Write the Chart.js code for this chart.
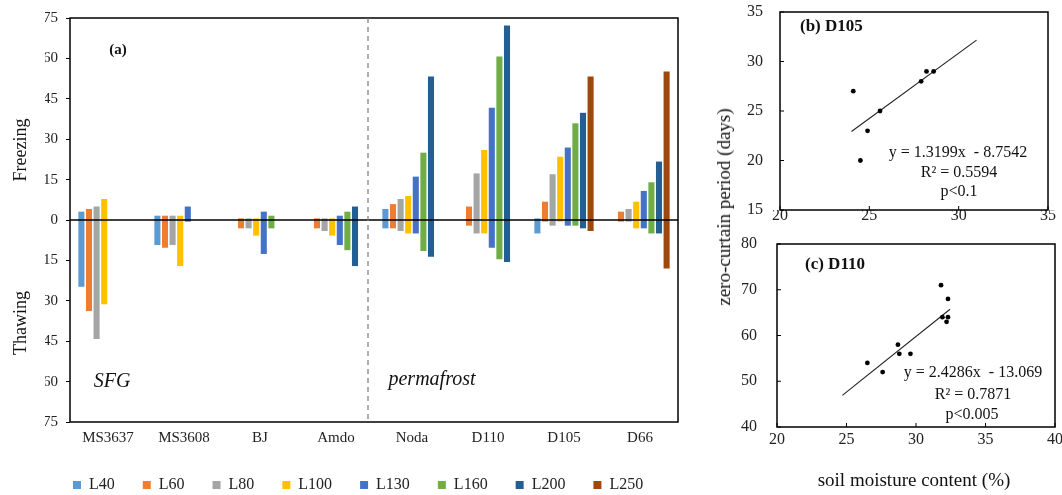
<!DOCTYPE html>
<html>
<head>
<meta charset="utf-8">
<script src="https://cdn.jsdelivr.net/npm/chart.js@4.4.1/dist/chart.umd.min.js"></script>
<style>
  html, body { margin: 0; padding: 0; background: #fff; overflow: hidden; width: 1062px; height: 495px; }
  canvas { position: absolute; }
  .axis-title { position: absolute; font-family: 'Liberation Serif', serif; font-size: 19px; color: #111; white-space: nowrap; transform: translate(-50%, -50%); }
</style>
</head>
<body>
<canvas id="barChart" width="690" height="503" style="left:0;top:0"></canvas>
<canvas id="scatterB" width="362" height="235" style="left:700px;top:0"></canvas>
<canvas id="scatterC" width="362" height="265" style="left:700px;top:230px"></canvas>
<div class="axis-title" style="left:724px;top:207px;transform:translate(-50%,-50%) rotate(-90deg)">zero-curtain period (days)</div>
<div class="axis-title" style="left:914px;top:480px">soil moisture content (%)</div>

<script>
// ---- (a) days of freezing (up) / thawing (down) per layer, null = no sensor
const sites = ["MS3637", "MS3608", "BJ", "Amdo", "Noda", "D110", "D105", "D66"];
const layers = ["L40", "L60", "L80", "L100", "L130", "L160", "L200", "L250"];
const layerColors = ["#5B9BD5", "#ED7D31", "#A5A5A5", "#FFC000", "#4472C4", "#70AD47", "#255E91", "#9E480E"];
const yTicksA = [-75, -60, -45, -30, -15, 0, 15, 30, 45, 60, 75];

const freezeL40 = [3.1, 1.6, null, null, 4.1, null, 0.6, null];
const freezeL60 = [4.1, 1.6, 0.6, 0.6, 5.9, 5.0, 6.8, 3.1];
const freezeL80 = [5.0, 1.6, 0.6, 0.6, 7.8, 17.3, 17.0, 4.1];
const freezeL100 = [7.8, 1.6, 0.6, 0.6, 8.9, 26.0, 23.5, 6.8];
const freezeL130 = [null, 5.0, 3.1, 1.6, 16.1, 41.7, 26.9, 10.8];
const freezeL160 = [null, null, 1.6, 3.1, 25.0, 60.7, 35.9, 14.0];
const freezeL200 = [null, null, null, 5.0, 53.3, 72.2, 39.8, 21.7];
const freezeL250 = [null, null, null, null, null, null, 53.3, 55.1];

const thawL40 = [24.8, 9.3, null, null, 3.1, null, 5.0, null];
const thawL60 = [33.8, 10.3, 3.1, 3.1, 3.1, 2.1, 0.6, 0.6];
const thawL80 = [44.2, 9.3, 3.1, 4.1, 4.1, 5.0, 2.1, 0.6];
const thawL100 = [31.3, 17.1, 5.8, 5.8, 5.0, 5.0, 0.6, 3.1];
const thawL130 = [null, 0.6, 12.6, 9.3, 5.0, 10.3, 2.1, 3.1];
const thawL160 = [null, null, 3.1, 11.2, 11.5, 14.6, 2.1, 5.0];
const thawL200 = [null, null, null, 17.1, 13.6, 15.6, 3.1, 5.0];
const thawL250 = [null, null, null, null, null, null, 4.1, 18.0];

// ---- (b) D105 and (c) D110: soil moisture (%) vs zero-curtain period (days)
const moistureD105 = [24.1, 24.5, 24.9, 25.6, 27.9, 28.2, 28.6];
const zeroCurtainD105 = [27, 20, 23, 25, 28, 29, 29];
const fitD105 = { slope: 1.3199, intercept: -8.7542, from: 24.0, to: 31.0 };

const moistureD110 = [26.5, 27.6, 28.7, 28.8, 29.6, 31.8, 31.9, 32.3, 32.3, 32.2];
const zeroCurtainD110 = [54, 52, 58, 56, 56, 71, 64, 68, 64, 63];
const fitD110 = { slope: 2.4286, intercept: -13.069, from: 24.7, to: 32.45 };

const SERIF = "'Liberation Serif', 'Times New Roman', serif";

const freezeAll = [freezeL40, freezeL60, freezeL80, freezeL100, freezeL130, freezeL160, freezeL200, freezeL250];
const thawAll = [thawL40, thawL60, thawL80, thawL100, thawL130, thawL160, thawL200, thawL250];

// free text drawn on the canvas (labels, panel tags, equations)
const notesPlugin = {
  id: "notes",
  afterDraw(chart, args, opts) {
    const ctx = chart.ctx;
    (opts.items || []).forEach((t) => {
      ctx.save();
      ctx.font = t.font;
      ctx.fillStyle = t.color || "#111";
      ctx.textAlign = t.align || "center";
      ctx.textBaseline = "middle";
      ctx.translate(t.x, t.y);
      if (t.rotate) ctx.rotate(t.rotate);
      ctx.fillText(t.text, 0, 0);
      ctx.restore();
    });
  },
};

// box around plot area + inward tick marks for the scatter panels
const framePlugin = {
  id: "frame",
  afterDatasetsDraw(chart, args, opts) {
    const { ctx, chartArea: a, scales } = chart;
    ctx.save();
    ctx.strokeStyle = "#000";
    ctx.lineWidth = 1.5;
    ctx.strokeRect(a.left, a.top, a.right - a.left, a.bottom - a.top);
    if (opts.innerTicks) {
      ctx.lineWidth = 1;
      ctx.beginPath();
      scales.x.ticks.forEach((tk) => {
        const px = scales.x.getPixelForValue(tk.value);
        ctx.moveTo(px, a.bottom);
        ctx.lineTo(px, a.bottom - 4);
      });
      scales.y.ticks.forEach((tk) => {
        const py = scales.y.getPixelForValue(tk.value);
        ctx.moveTo(a.left, py);
        ctx.lineTo(a.left + 4, py);
      });
      ctx.stroke();
    }
    if (opts.zeroLine) {
      const y0 = scales.y.getPixelForValue(0);
      ctx.beginPath();
      ctx.moveTo(a.left, y0);
      ctx.lineTo(a.right, y0);
      ctx.stroke();
    }
    if (opts.dividerAfter != null) {
      const i = opts.dividerAfter;
      const xd = (scales.x.getPixelForValue(i) + scales.x.getPixelForValue(i + 1)) / 2 - 6;
      ctx.strokeStyle = "#777";
      ctx.lineWidth = 1.2;
      ctx.setLineDash([5, 4]);
      ctx.beginPath();
      ctx.moveTo(xd, a.top);
      ctx.lineTo(xd, a.bottom);
      ctx.stroke();
    }
    ctx.restore();
  },
};

Chart.register(notesPlugin, framePlugin);
Chart.defaults.font.family = SERIF;
Chart.defaults.color = "#222";

// keep the plot area where layout.padding puts it (labels may hang out)
function noOverhang(s) {
  s.paddingTop = 0;
  s.paddingBottom = 0;
  s.paddingLeft = 0;
  s.paddingRight = 0;
}

// ---------- panel (a)
const barDatasets = layers.map((name, i) => ({
  label: name,
  data: sites.map((_, j) => (freezeAll[i][j] == null ? null : [-thawAll[i][j], freezeAll[i][j]])),
  backgroundColor: layerColors[i],
  borderWidth: 0,
  barPercentage: 0.8,
  categoryPercentage: 0.8,
}));

new Chart(document.getElementById("barChart"), {
  type: "bar",
  data: { labels: sites, datasets: barDatasets },
  options: {
    responsive: false,
    animation: false,
    layout: { padding: { left: 45, right: 12, top: 18, bottom: 0 } },
    scales: {
      x: {
        grid: { display: false, drawTicks: false },
        border: { display: false },
        ticks: { font: { size: 15 }, padding: 7, color: "#222" },
        afterFit: (s) => { s.height = 27; noOverhang(s); },
      },
      y: {
        min: -75,
        max: 75,
        afterBuildTicks: (s) => { s.ticks = yTicksA.map((v) => ({ value: v })); },
        ticks: { font: { size: 15 }, padding: 8, color: "#222", callback: (v) => Math.abs(v) },
        grid: { drawOnChartArea: false, drawTicks: true, tickLength: 4, tickColor: "#000" },
        border: { display: false },
        afterFit: (s) => { s.width = 25; noOverhang(s); },
      },
    },
    plugins: {
      legend: {
        position: "bottom",
        align: "start",
        labels: { font: { size: 16 }, boxWidth: 8, boxHeight: 8, padding: 28, color: "#222" },
      },
      tooltip: { enabled: false },
      frame: { zeroLine: true, dividerAfter: 3 },
      notes: {
        items: [
          { text: "(a)", x: 118, y: 50, font: `bold 15px ${SERIF}` },
          { text: "SFG", x: 112, y: 382, font: `italic 20px ${SERIF}` },
          { text: "permafrost", x: 432, y: 380, font: `italic 20px ${SERIF}` },
          { text: "Freezing", x: 21, y: 150, font: `18px ${SERIF}`, rotate: -Math.PI / 2 },
          { text: "Thawing", x: 21, y: 323, font: `18px ${SERIF}`, rotate: -Math.PI / 2 },
        ],
      },
    },
  },
});

// ---------- panels (b) and (c)
function fitLine(fit) {
  return [fit.from, fit.to].map((x) => ({ x, y: fit.slope * x + fit.intercept }));
}

function scatterPanel(id, xs, ys, fit, box, notes) {
  const points = xs.map((x, i) => ({ x, y: ys[i] }));
  return new Chart(document.getElementById(id), {
    type: "scatter",
    data: {
      datasets: [
        { data: points, pointRadius: 2.4, pointBackgroundColor: "#000", pointBorderWidth: 0 },
        { type: "line", data: fitLine(fit), showLine: true, pointRadius: 0, borderColor: "#222", borderWidth: 1.1 },
      ],
    },
    options: {
      responsive: false,
      animation: false,
      layout: { autoPadding: false, padding: { left: 0, right: box.right, top: box.top, bottom: 0 } },
      scales: {
        x: {
          min: box.xMin, max: box.xMax,
          ticks: { stepSize: 5, font: { size: 16 }, padding: box.xPad, color: "#222" },
          grid: { display: false, drawTicks: false },
          border: { display: false },
          afterFit: (s) => { s.height = box.xHeight; noOverhang(s); },
        },
        y: {
          min: box.yMin, max: box.yMax,
          ticks: { stepSize: box.yStep, font: { size: 16 }, padding: box.yPad, color: "#222" },
          grid: { display: false, drawTicks: false },
          border: { display: false },
          afterFit: (s) => { s.width = box.left; noOverhang(s); },
        },
      },
      plugins: {
        legend: { display: false },
        tooltip: { enabled: false },
        frame: { innerTicks: true },
        notes: { items: notes },
      },
    },
  });
}

scatterPanel("scatterB", moistureD105, zeroCurtainD105, fitD105,
  { left: 80, right: 14, top: 12, xHeight: 25, xMin: 20, xMax: 35, yMin: 15, yMax: 35, yStep: 5, xPad: -4, yPad: 17 },
  [
    { text: "(b) D105", x: 100, y: 27, font: `bold 17px ${SERIF}`, align: "left" },
    { text: "y = 1.3199x  - 8.7542", x: 258, y: 153, font: `16px ${SERIF}` },
    { text: "R² = 0.5594", x: 259, y: 173, font: `16px ${SERIF}` },
    { text: "p<0.1", x: 259, y: 192, font: `16px ${SERIF}` },
  ]);

scatterPanel("scatterC", moistureD110, zeroCurtainD110, fitD110,
  { left: 77, right: 7, top: 14, xHeight: 68, xMin: 20, xMax: 40, yMin: 40, yMax: 80, yStep: 10, xPad: 3, yPad: 20 },
  [
    { text: "(c) D110", x: 105, y: 35, font: `bold 17px ${SERIF}`, align: "left" },
    { text: "y = 2.4286x  - 13.069", x: 273, y: 143, font: `16px ${SERIF}` },
    { text: "R² = 0.7871", x: 273, y: 165, font: `16px ${SERIF}` },
    { text: "p<0.005", x: 272, y: 185, font: `16px ${SERIF}` },
  ]);
</script>
</body>
</html>
